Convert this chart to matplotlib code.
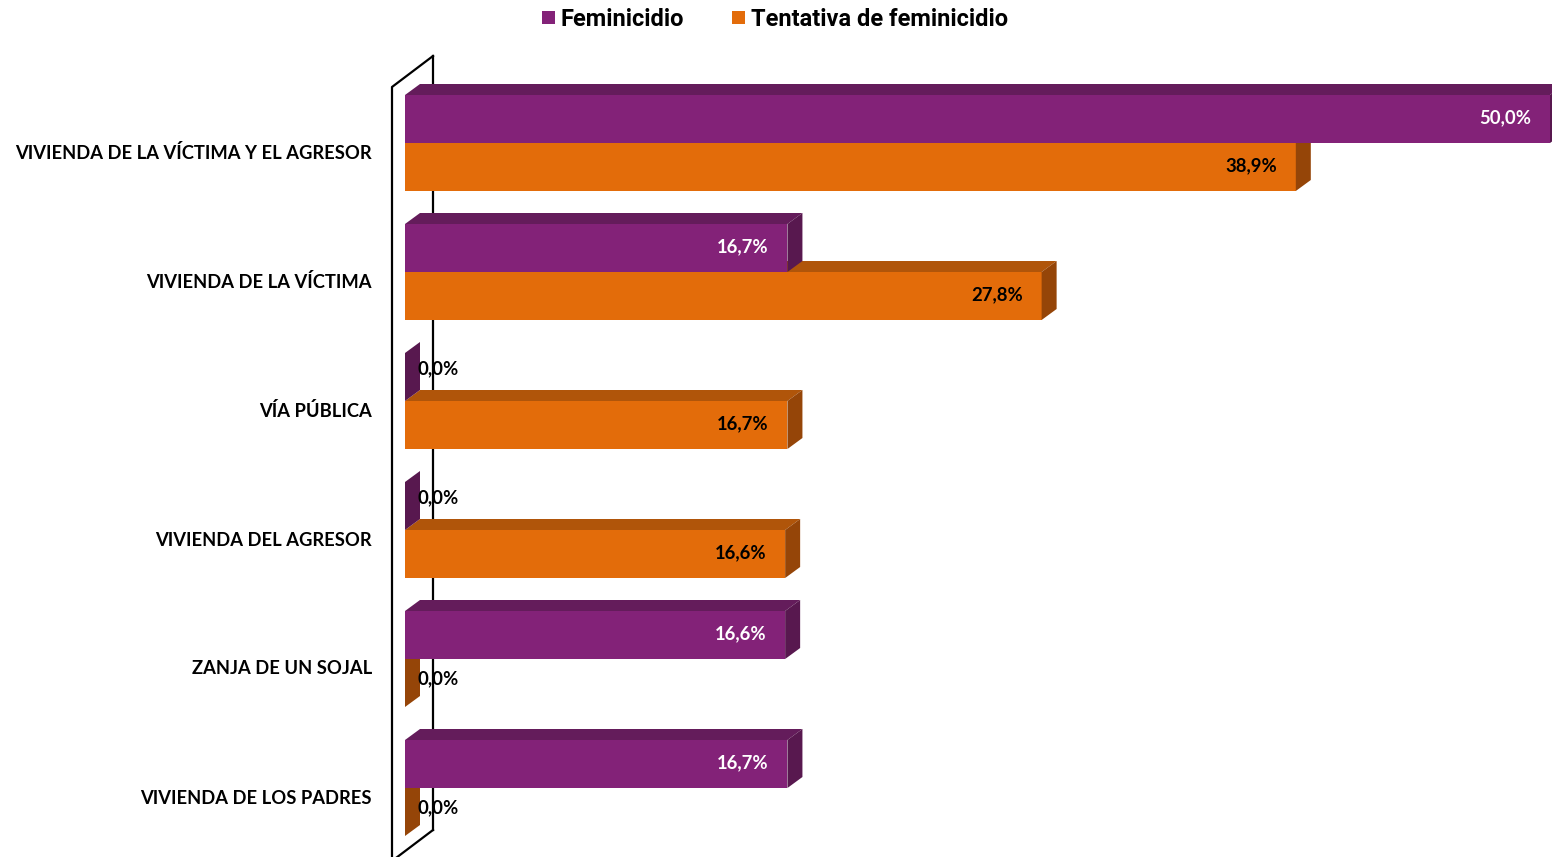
import matplotlib
matplotlib.use("Agg")
import matplotlib.pyplot as plt
from matplotlib.patches import Polygon, Rectangle
from matplotlib.lines import Line2D

# data
categories = ["VIVIENDA DE LA VÍCTIMA Y EL AGRESOR", "VIVIENDA DE LA VÍCTIMA",
              "VÍA PÚBLICA", "VIVIENDA DEL AGRESOR", "ZANJA DE UN SOJAL",
              "VIVIENDA DE LOS PADRES"]
feminicidio = [50.0, 16.7, 0.0, 0.0, 16.6, 16.7]
tentativa = [38.9, 27.8, 16.7, 16.6, 0.0, 0.0]
series_names = ["Feminicidio", "Tentativa de feminicidio"]

W, H = 1552, 857
PURPLE = ("#832278", "#641c5b", "#58184f")   # front, top, side
ORANGE = ("#e36c0a", "#b0550a", "#954508")

PX_PER_PCT = 22.9
fig = plt.figure(figsize=(W / 100, H / 100), dpi=100)
# 0% sits at x=405 px
ax = fig.add_axes([405 / W, 0, 50 * PX_PER_PCT / W, 1])
ax.set_xlim(0, 50)
ax.set_ylim((H - 143) / 129, -143 / 129)
ax.set_axis_off()

BAR_H = 48 / 129
DX = 15 / PX_PER_PCT     # depth offset in data units
DY = 11 / 129


def px(x, y):
    return x / W, 1 - y / H


# back wall line (behind bars)
fig.add_artist(Line2D([433 / W, 433 / W], [1 - 56 / H, 1 - 830 / H],
                      color="black", lw=1.6, zorder=0))
# front wall outline
xs = [433, 392, 392]
ys = [56, 87, 870]
fig.add_artist(Line2D([x / W for x in xs], [1 - y / H for y in ys],
                      color="black", lw=1.6, zorder=5))
fig.add_artist(Line2D([433 / W, 392 / W], [1 - 830 / H, 1 - 861 / H],
                      color="black", lw=1.6, zorder=5))


def bar3d(v, top, cols, z):
    bot = top + BAR_H
    front, topc, side = cols
    if v > 0:
        ax.add_patch(Rectangle((0, top), v, BAR_H, fc=front, ec="none",
                               zorder=z, clip_on=False))
        ax.add_patch(Polygon([(0, top), (v, top), (v + DX, top - DY), (DX, top - DY)],
                             closed=True, fc=topc, ec="none", zorder=z, clip_on=False))
    ax.add_patch(Polygon([(v, top), (v + DX, top - DY), (v + DX, bot - DY), (v, bot)],
                         closed=True, fc=side, ec="none", zorder=z, clip_on=False))


FONT = ["Lato", "DejaVu Sans"]

for i, (f, t) in enumerate(zip(feminicidio, tentativa)):
    bar3d(t, i, ORANGE, 2)
    bar3d(f, i - BAR_H, PURPLE, 3)

    for v, yc, col, zoff in [(f, i - BAR_H / 2, "white", 8), (t, i + BAR_H / 2, "black", 4)]:
        label = f"{v:.1f}".replace(".", ",") + "%"
        if v > 0:
            ax.annotate(label, (v, yc), xytext=(-19, 1), textcoords="offset pixels",
                        ha="right", va="center", fontsize=13.3, fontweight="bold",
                        color=col, family=FONT, zorder=6)
        else:
            ax.annotate(label, (0, yc), xytext=(13, zoff), textcoords="offset pixels",
                        ha="left", va="center", fontsize=13.3, fontweight="bold",
                        color="black", family=FONT, zorder=6)

    ax.annotate(categories[i], (0, i), xytext=(-33, -10), textcoords="offset pixels",
                ha="right", va="center", fontsize=13.2, fontweight="bold",
                color="black", family=FONT, annotation_clip=False)

# legend
LFONT = ["Roboto", "DejaVu Sans"]
for (x0, name, col) in [(542, series_names[0], PURPLE[0]),
                        (732, series_names[1], ORANGE[0])]:
    fig.add_artist(Rectangle(px(x0, 24), 13 / W, 13 / H, fc=col, ec="none",
                             transform=fig.transFigure))
    fig.text(*px(x0 + 19, 19), name, ha="left", va="center", fontsize=17,
             fontweight="bold", family=LFONT)

fig.savefig("out.png", dpi=100, facecolor="white")
